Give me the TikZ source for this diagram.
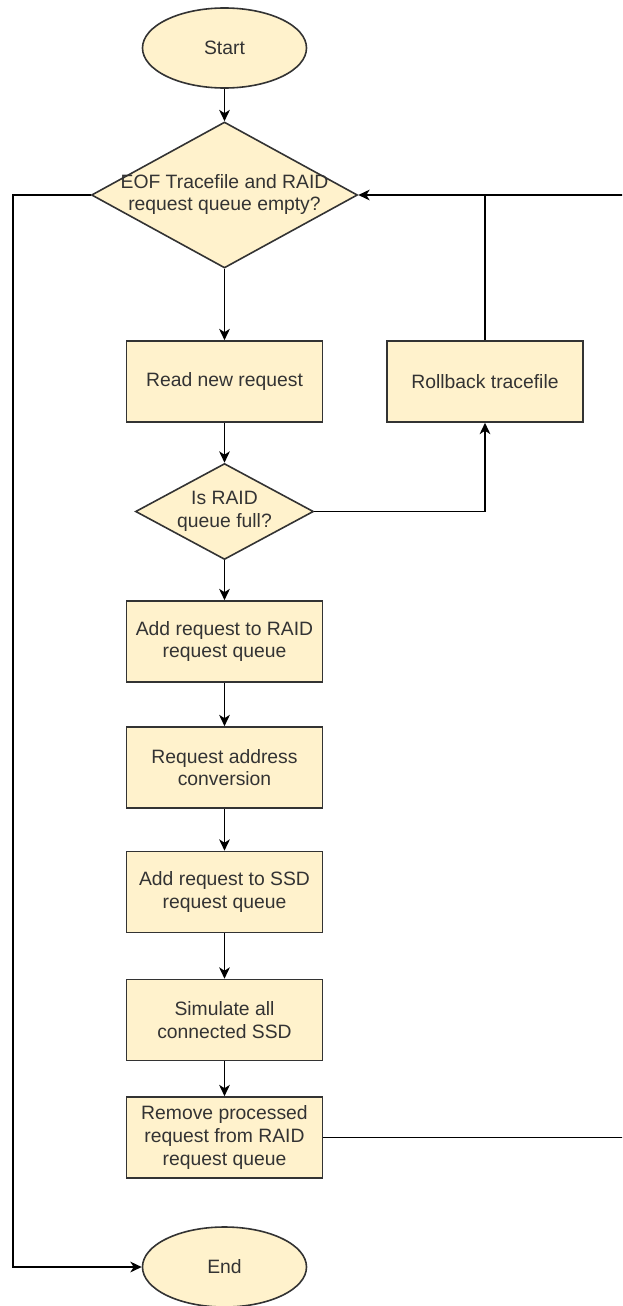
\documentclass[tikz,border=0pt]{standalone}
\usepackage{fontspec}
\setmainfont{Liberation Sans}
\usetikzlibrary{shapes.geometric,arrows.meta}
\definecolor{boxfill}{HTML}{FFF2CC}
\definecolor{boxline}{HTML}{333333}
\definecolor{txt}{HTML}{333333}
\newcommand{\dtext}[1]{\makebox[0pt]{\begin{tabular}{@{}c@{}}#1\end{tabular}}}
\begin{document}
\begin{tikzpicture}[x=0.75pt,y=-0.75pt,
 every node/.style={font=\fontsize{14.5}{17}\selectfont, text=txt},
 shapebase/.style={draw=boxline, fill=boxfill, line width=1.2pt, inner sep=0pt},
 procbox/.style={shapebase, rectangle, minimum width=147pt, minimum height=60.75pt, align=center},
 term/.style={shapebase, ellipse, minimum width=123pt, minimum height=60pt},
 decision/.style={shapebase, diamond},
 conn/.style={line width=1.3pt, draw=black},
 arr/.style={conn, -{Stealth[length=8.5pt,width=8pt,inset=2.5pt]}},
]
\clip (0,0) rectangle (622,1306);

\node[term] (start) at (224.5,48) {Start};
\node[decision, minimum width=199.5pt, minimum height=109.5pt] (d1) at (224.5,195)
  {\dtext{EOF Tracefile and RAID\\request queue empty?}};
\node[procbox] (read) at (224.5,381.5) {Read new request};
\node[procbox] (rb) at (485,381.5) {Rollback tracefile};
\node[decision, minimum width=133.5pt, minimum height=72pt] (d2) at (224.5,511.5)
  {\dtext{Is RAID\\queue full?}};
\node[procbox] (raid) at (224.5,641.5) {Add request to RAID\\request queue};
\node[procbox] (conv) at (224.5,767.5) {Request address\\conversion};
\node[procbox] (ssd) at (224.5,892) {Add request to SSD\\request queue};
\node[procbox] (sim) at (224.5,1020) {Simulate all\\connected SSD};
\node[procbox] (rm) at (224.5,1137.5) {Remove processed\\request from RAID\\request queue};
\node[term] (end) at (224.5,1267) {End};

\coordinate (rx) at (640,0);
\coordinate (lx) at (13,0);

\draw[arr] (start.south) -- (d1.north);
\draw[arr] (d1.south) -- (read.north);
\draw[arr] (read.south) -- (d2.north);
\draw[arr] (d2.south) -- (raid.north);
\draw[arr] (raid.south) -- (conv.north);
\draw[arr] (conv.south) -- (ssd.north);
\draw[arr] (ssd.south) -- (sim.north);
\draw[arr] (sim.south) -- (rm.north);
\draw[arr] (d2.east) -| (rb.south);
\draw[conn] (rb.north) -- (rb.north |- d1.east);
\draw[arr] (rm.east) -- (rm.east -| rx) -- (rx |- d1.east) -- (d1.east);
\draw[arr] (d1.west) -- (d1.west -| lx) -- (lx |- end.west) -- (end.west);
\end{tikzpicture}
\end{document}
